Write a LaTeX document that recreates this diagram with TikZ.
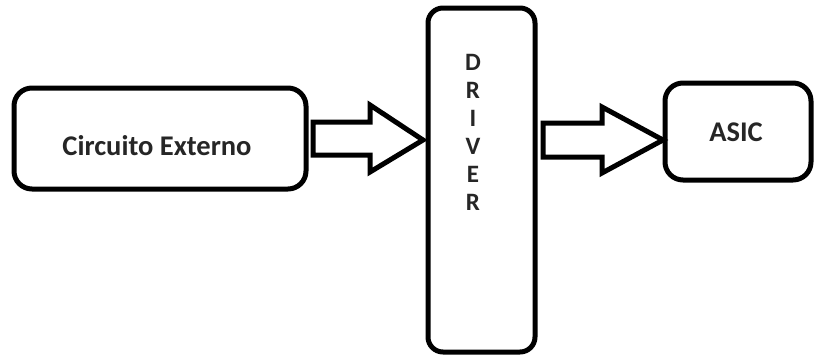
\documentclass[tikz,border=0pt]{standalone}
\usepackage{fontspec}
\setmainfont{Carlito}
\begin{document}
\begin{tikzpicture}[x=1pt,y=-1pt,
  blk/.style={draw=black, line width=5pt, rounded corners=18pt, fill=white, inner sep=0pt},
  lbl/.style={font=\fontsize{28.5}{28}\selectfont\bfseries, text=black!85, inner sep=0pt, align=center},
  blockarrow/.style={draw=black, line width=5pt, line join=miter, fill=white}]
  \useasboundingbox (0,0) rectangle (814,356);
  \fill[white] (0,0) rectangle (814,356);

  % blocks
  \node[blk, minimum width=292pt, minimum height=101pt] (ext) at (160,138.5) {};
  \node[blk, minimum width=107pt, minimum height=344pt, rounded corners=15pt] (drv) at (481.5,180) {};
  \node[blk, minimum width=146pt, minimum height=97pt] (asic) at (738,131.5) {};

  % labels
  \node[lbl] (extlbl) at (157,146) {Circuito Externo};
  \node[lbl, font=\fontsize{25}{28}\selectfont\bfseries] (drvlbl) at (473,132) {D\\R\\I\\V\\E\\R};
  \node[lbl] (asiclbl) at (736,132) {ASIC};

  % block arrows between the blocks
  \draw[blockarrow] (313,122) -- (370,122) -- (370,105) -- (423,140)
    -- (370,172) -- (370,155) -- (313,155) -- cycle;
  \draw[blockarrow] (543,123) -- (602,123) -- (602,107) -- (663,140)
    -- (602,173) -- (602,157) -- (543,157) -- cycle;
\end{tikzpicture}
\end{document}
